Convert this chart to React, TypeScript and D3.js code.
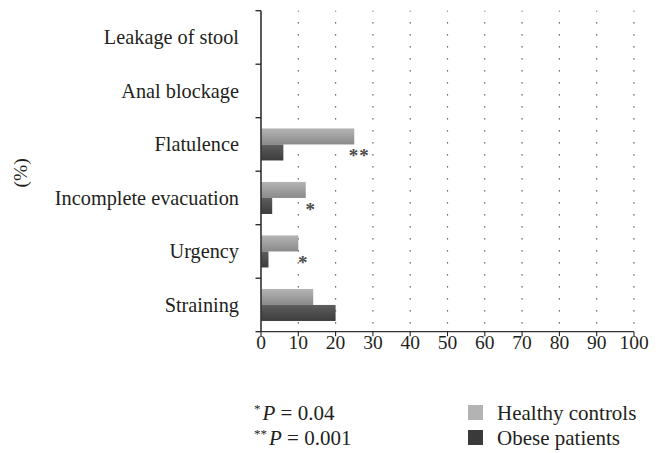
import React from 'react';
import * as d3 from 'd3';

// symptoms, top to bottom
const categories = [
  'Leakage of stool',
  'Anal blockage',
  'Flatulence',
  'Incomplete evacuation',
  'Urgency',
  'Straining',
];
const healthyControls = [0, 0, 25, 12, 10, 14];
const obesePatients = [0, 0, 6, 3, 2, 20];
const significance = ['', '', '**', '*', '*', ''];
const xTicks = [0, 10, 20, 30, 40, 50, 60, 70, 80, 90, 100];
const seriesNames = ['Healthy controls', 'Obese patients'];

const W = 665;
const H = 453;
const FONT = '"Liberation Serif", "DejaVu Serif", serif';
const INK = '#231f20';

const App = () => {
  const margin = { top: 10.7, left: 261, right: 31, bottom: 121.3 };
  const innerW = W - margin.left - margin.right;
  const innerH = H - margin.top - margin.bottom;

  const x = d3.scaleLinear().domain([0, 100]).range([0, innerW]);
  const y = d3.scaleBand().domain(categories).range([0, innerH]).padding(0);
  const sub = d3
    .scaleBand()
    .domain(['healthy', 'obese'])
    .range([0, y.bandwidth()])
    .paddingInner(0)
    .paddingOuter(0.67);

  const rows = categories.map((c, i) => ({
    cat: c,
    healthy: healthyControls[i],
    obese: obesePatients[i],
    sig: significance[i],
  }));

  return (
    <svg width={W} height={H} style={{ position: 'absolute', left: 0, top: 0 }} fontFamily={FONT}>
      <defs>
        <linearGradient id="gHealthy" x1="0" y1="0" x2="0" y2="1">
          <stop offset="0%" stopColor="#b4b4b4" />
          <stop offset="100%" stopColor="#8a8a8a" />
        </linearGradient>
        <linearGradient id="gObese" x1="0" y1="0" x2="0" y2="1">
          <stop offset="0%" stopColor="#5e5e5e" />
          <stop offset="100%" stopColor="#3c3c3c" />
        </linearGradient>
      </defs>
      <rect width={W} height={H} fill="#fff" />
      <g transform={`translate(${margin.left},${margin.top})`}>
        {/* dotted gridlines */}
        {xTicks.filter(t => t > 0).map(t => (
          <line
            key={'g' + t}
            x1={x(t)}
            x2={x(t)}
            y1={0}
            y2={innerH}
            stroke="#444"
            strokeWidth={1.2}
            strokeDasharray="1.2 10.8"
            strokeDashoffset={-11.5}
          />
        ))}

        {/* bars */}
        {rows.map(r => (
          <g key={r.cat} transform={`translate(0,${y(r.cat)})`}>
            {r.healthy > 0 && (
              <rect x={0} y={sub('healthy')} width={x(r.healthy)} height={sub.bandwidth()} fill="url(#gHealthy)" />
            )}
            {r.obese > 0 && (
              <rect x={0} y={sub('obese')} width={x(r.obese)} height={sub.bandwidth()} fill="url(#gObese)" />
            )}
            {r.sig && (
              <text
                x={x(r.healthy) + 5}
                y={(sub('obese') as number) + sub.bandwidth() / 2 + 10}
                textAnchor="middle"
                fontSize={19}
                fontWeight="bold"
                letterSpacing={1}
                fill="#4a4a4a"
              >
                {r.sig}
              </text>
            )}
          </g>
        ))}

        {/* y axis */}
        <line x1={0} x2={0} y1={0} y2={innerH} stroke="#333" strokeWidth={1.6} />
        {[...categories.map(c => y(c) as number), innerH].map((v, i) => (
          <line key={'yt' + i} x1={-5.5} x2={0} y1={v} y2={v} stroke="#222" strokeWidth={1.3} />
        ))}
        {categories.map(c => (
          <text
            key={'yl' + c}
            x={-22}
            y={(y(c) as number) + y.bandwidth() / 2 + 7}
            textAnchor="end"
            fontSize={20.3}
            fill={INK}
          >
            {c}
          </text>
        ))}

        {/* x axis */}
        <line x1={0} x2={innerW} y1={innerH} y2={innerH} stroke="#333" strokeWidth={1.2} />
        {xTicks.map(t => (
          <g key={'xt' + t} transform={`translate(${x(t)},${innerH})`}>
            <line y1={0} y2={4.5} stroke="#222" strokeWidth={1.1} />
            <text y={16.8} textAnchor="middle" fontSize={19.5} fill={INK}>
              {t}
            </text>
          </g>
        ))}
      </g>

      {/* axis title */}
      <text transform="translate(27,173) rotate(-90)" textAnchor="middle" fontSize={19.5} fill={INK}>
        (%)
      </text>

      {/* significance notes */}
      <text x={254} y={420} fontSize={21} fill={INK}>
        <tspan fontSize={13} dy={-7}>*</tspan>
        <tspan dy={7} dx={2} fontStyle="italic">P</tspan>
        <tspan> = 0.04</tspan>
      </text>
      <text x={254} y={445} fontSize={21} fill={INK}>
        <tspan fontSize={13} dy={-7}>**</tspan>
        <tspan dy={7} dx={2} fontStyle="italic">P</tspan>
        <tspan> = 0.001</tspan>
      </text>

      {/* legend */}
      {seriesNames.map((s, i) => (
        <g key={s} transform={`translate(468,${405 + i * 25})`}>
          <rect width={15} height={15} fill={i === 0 ? '#b3b3b3' : '#3a3a3a'} />
          <text x={29} y={14.5} fontSize={21} fill={INK}>
            {s}
          </text>
        </g>
      ))}
    </svg>
  );
};

export default App;
